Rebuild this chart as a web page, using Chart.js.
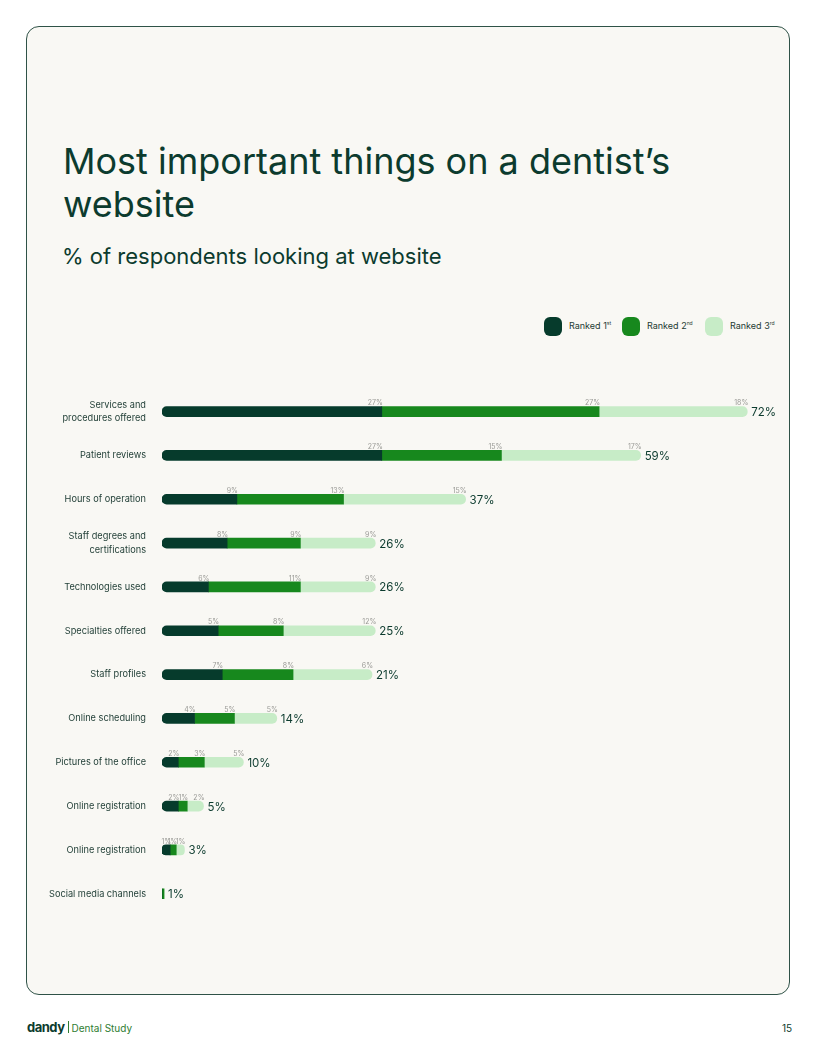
<!DOCTYPE html>
<html>
<head>
<meta charset="utf-8">
<script src="https://cdn.jsdelivr.net/npm/chart.js@4.4.1/dist/chart.umd.min.js"></script>
<style>
  html, body { margin: 0; padding: 0; background: #ffffff; }
  body { width: 816px; height: 1056px; position: relative; overflow: hidden; font-family: 'Inter', sans-serif; color: #0c3b2e; }
  .card { position: absolute; left: 26px; top: 26px; width: 764px; height: 969px; border: 1px solid #2f5247; border-radius: 13px; background: #f9f8f4; box-sizing: border-box; }
  h1 { position: absolute; left: 63px; top: 140px; margin: 0; font-size: 36px; line-height: 43px; font-weight: 400; letter-spacing: 0; color: #0c3b2e; }
  h2 { position: absolute; left: 62px; top: 242px; margin: 0; font-size: 22px; line-height: 28px; font-weight: 400; color: #0c3b2e; }
  .legend { position: absolute; top: 317px; left: 544px; font-size: 9px; color: #1d3b33; }
  .legend span.item { position: absolute; top: 0; white-space: nowrap; }
  .legend i { display: inline-block; width: 18px; height: 19px; border-radius: 6px; vertical-align: middle; margin-right: 7px; }
  .legend sup { font-size: 5px; }
  #wrap { position: absolute; left: 0; top: 367px; width: 816px; height: 578px; }
  .foot { position: absolute; left: 27px; top: 1019px; font-size: 10px; color: #2e7d32; }
  .foot b { font-size: 13px; color: #0c3b2e; font-weight: 700; letter-spacing: -0.5px; }
  .foot .bar { display: inline-block; width: 1px; height: 12px; background: #2e7d32; margin: 0 3px -1px 3px; }
  .page { position: absolute; left: 782px; top: 1022px; font-size: 10px; color: #0c3b2e; }
</style>
</head>
<body>
<div class="card"></div>
<h1>Most important things on a dentist’s<br>website</h1>
<h2>% of respondents looking at website</h2>
<div class="legend">
  <span class="item" style="left:0"><i style="background:#063b2c"></i>Ranked 1<sup>st</sup></span>
  <span class="item" style="left:78px"><i style="background:#17881d"></i>Ranked 2<sup>nd</sup></span>
  <span class="item" style="left:161px"><i style="background:#c7ecc7"></i>Ranked 3<sup>rd</sup></span>
</div>
<div id="wrap"><canvas id="myChart"></canvas></div>
<div class="foot"><b>dandy</b><span class="bar"></span>Dental Study</div>
<div class="page">15</div>

<script>
const categories = [
  ['Services and', 'procedures offered'],
  'Patient reviews',
  'Hours of operation',
  ['Staff degrees and', 'certifications'],
  'Technologies used',
  'Specialties offered',
  'Staff profiles',
  'Online scheduling',
  'Pictures of the office',
  'Online registration',
  'Online registration',
  'Social media channels'
];

// bar lengths as drawn
const ranked1 = [27, 27, 9.2, 8, 5.7, 6.9, 7.4, 4, 2, 2, 1, 0];
const ranked2 = [26.7, 14.7, 13.1, 9, 11.3, 8, 8.7, 4.9, 3.2, 1.1, 0.75, 0.25];
const ranked3 = [18.2, 17.1, 15, 9.2, 9.2, 11.3, 9.7, 5.2, 4.8, 2, 1, 0];

// printed labels
const ranked1Labels = ['27%', '27%', '9%', '8%', '6%', '5%', '7%', '4%', '2%', '2%', '1%', ''];
const ranked2Labels = ['27%', '15%', '13%', '9%', '11%', '8%', '8%', '5%', '3%', '1%', '1%', ''];
const ranked3Labels = ['18%', '17%', '15%', '9%', '9%', '12%', '6%', '5%', '5%', '2%', '1%', ''];
const totals = ['72%', '59%', '37%', '26%', '26%', '25%', '21%', '14%', '10%', '5%', '3%', '1%'];

const segLabels = [ranked1Labels, ranked2Labels, ranked3Labels];

const labelPlugin = {
  id: 'barLabels',
  afterDatasetsDraw(chart) {
    const c = chart.ctx;
    c.save();
    c.font = '7px Inter';
    c.fillStyle = '#9a9a96';
    c.textAlign = 'right';
    c.textBaseline = 'bottom';
    chart.data.datasets.forEach(function(ds, i) {
      chart.getDatasetMeta(i).data.forEach(function(bar, j) {
        const txt = segLabels[i][j];
        if (txt) c.fillText(txt, bar.x + 1, bar.y - 5);
      });
    });
    const last = chart.getDatasetMeta(2).data;
    const mid = chart.getDatasetMeta(1).data;
    c.font = '11.5px Inter';
    c.fillStyle = '#0c3b2e';
    c.textAlign = 'left';
    c.textBaseline = 'middle';
    last.forEach(function(bar, j) {
      const x = Math.max(bar.x, mid[j].x);
      c.fillText(totals[j], x + 4, bar.y + 1);
    });
    c.restore();
  }
};

const ctx = document.getElementById('myChart');

new Chart(ctx, {
  type: 'bar',
  data: {
    labels: categories,
    datasets: [{
      label: 'Ranked 1st',
      data: ranked1,
      backgroundColor: '#063b2c',
      borderRadius: { topLeft: 5, bottomLeft: 5 },
      borderSkipped: false
    }, {
      label: 'Ranked 2nd',
      data: ranked2,
      backgroundColor: '#17881d',
      borderRadius: 0,
      borderSkipped: false
    }, {
      label: 'Ranked 3rd',
      data: ranked3,
      backgroundColor: '#c7ecc7',
      borderRadius: { topRight: 5, bottomRight: 5 },
      borderSkipped: false
    }]
  },
  options: {
    indexAxis: 'y',
    responsive: true,
    maintainAspectRatio: false,
    animation: false,
    barThickness: 10,
    plugins: {
      legend: { display: false },
      tooltip: { enabled: false }
    },
    scales: {
      x: {
        stacked: true,
        display: false,
        min: 0,
        max: 75
      },
      y: {
        stacked: true,
        grid: { display: false, drawTicks: false },
        border: { display: false },
        afterFit: function(scale) { scale.width = 162; },
        ticks: {
          color: '#1d3b33',
          padding: 16,
          font: { family: 'Inter', size: 9.2, lineHeight: 1.45 }
        }
      }
    },
    layout: {
      padding: { top: 0, bottom: 0, left: 0, right: 43.5 }
    }
  },
  plugins: [labelPlugin]
});
</script>
</body>
</html>
